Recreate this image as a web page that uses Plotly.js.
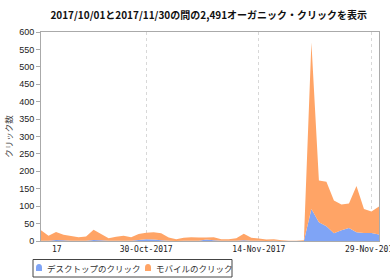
<!DOCTYPE html>
<html>
<head>
<meta charset="utf-8">
<script src="https://cdn.plot.ly/plotly-3.0.1.min.js"></script>
<style>html,body{margin:0;padding:0;background:#fff;}#chart{width:390px;height:279px;}</style>
</head>
<body>
<div id="chart"></div>
<script>
const dates = [
  '2017-10-16','2017-10-17','2017-10-18','2017-10-19','2017-10-20','2017-10-21','2017-10-22','2017-10-23',
  '2017-10-24','2017-10-25','2017-10-26','2017-10-27','2017-10-28','2017-10-29','2017-10-30','2017-10-31',
  '2017-11-01','2017-11-02','2017-11-03','2017-11-04','2017-11-05','2017-11-06','2017-11-07','2017-11-08',
  '2017-11-09','2017-11-10','2017-11-11','2017-11-12','2017-11-13','2017-11-14','2017-11-15','2017-11-16',
  '2017-11-17','2017-11-18','2017-11-19','2017-11-20','2017-11-21','2017-11-22','2017-11-23','2017-11-24',
  '2017-11-25','2017-11-26','2017-11-27','2017-11-28','2017-11-29','2017-11-30'
];
const desktopClicks = [
  1,1,3,2,1,1,1,3,
  2,1,1,1,1,3,5,4,
  2,1,0,1,1,1,4,2,
  1,1,1,2,1,1,0,1,
  0,0,0,0,92,54,42,22,
  31,37,25,23,23,19
];
const mobileClicks = [
  30,14,23,16,13,10,12,29,
  18,7,11,14,10,17,19,21,
  20,9,5,8,10,9,6,9,
  4,4,7,19,8,6,4,4,
  2,1,1,2,478,120,128,94,
  74,71,133,69,62,80
];
const seriesNames = ['デスクトップのクリック', 'モバイルのクリック'];
const tickDates = ['2017-10-30','2017-11-14','2017-11-29'];
const tickLabels = ['30-Oct-2017','14-Nov-2017','29-Nov-2017'];
const clippedFirstTick = '17';
const titleText = '2017/10/01と2017/11/30の間の2,491オーガニック・クリックを表示';
const yTitle = 'クリック数';

const colors = ['#7fa4f6', '#ffa466'];

const traces = [
  {x: dates, y: desktopClicks, name: seriesNames[0], type: 'scatter', mode: 'none',
   stackgroup: 'one', fillcolor: colors[0], line: {width: 0}},
  {x: dates, y: mobileClicks, name: seriesNames[1], type: 'scatter', mode: 'none',
   stackgroup: 'one', fillcolor: colors[1], line: {width: 0}}
];

// plot area in pixels: x 41..379, y 32..241
const PL = 41, PW = 338, PB = 241, PH = 209;
const px = v => (v - PL) / PW;
const py = v => (PB - v) / PH;
function bell(x0, x1, yTop, yBot) {
  const xm = (x0 + x1) / 2, yMid = yTop + (yBot - yTop) * 0.5;
  return `M ${px(x0)},${py(yBot)} L ${px(x0)},${py(yMid)} Q ${px(x0)},${py(yTop)} ${px(xm)},${py(yTop)} ` +
         `Q ${px(x1)},${py(yTop)} ${px(x1)},${py(yMid)} L ${px(x1)},${py(yBot)} Z`;
}
const legendFont = {family: 'Noto Sans CJK JP, sans-serif', size: 8.5, color: '#333'};

const layout = {
  width: 390, height: 279,
  margin: {l: PL, r: 390 - PL - PW, t: 32, b: 279 - PB},
  paper_bgcolor: '#fff', plot_bgcolor: '#fff',
  showlegend: false,
  title: {text: '<b>' + titleText + '</b>', x: 0.535, xanchor: 'center', y: 0.945, yanchor: 'middle',
          font: {family: 'Noto Sans CJK JP, sans-serif', size: 10, color: '#111'}},
  xaxis: {
    type: 'date', range: ['2017-10-16', '2017-11-30'],
    tickmode: 'array', tickvals: tickDates, ticktext: tickLabels,
    ticklabeloverflow: 'allow',
    showgrid: true, gridcolor: '#d8d8d8', griddash: 'dot', gridwidth: 1,
    showline: true, linecolor: '#aaa', linewidth: 1, mirror: true,
    ticks: '', tickfont: {family: 'DejaVu Sans Mono, monospace', size: 8, color: '#222'},
    zeroline: false, fixedrange: true
  },
  yaxis: {
    range: [0, 600], dtick: 50, tick0: 0,
    showgrid: false, zeroline: false,
    showline: true, linecolor: '#aaa', linewidth: 1, mirror: true,
    ticks: 'outside', ticklen: 4, tickcolor: '#aaa',
    tickfont: {family: 'Liberation Sans Narrow, Liberation Sans, sans-serif', size: 9, color: '#222'},
    title: {text: yTitle, standoff: 5, font: {family: 'Noto Sans CJK JP, sans-serif', size: 8.5, color: '#444'}}
  },
  shapes: [
    {type: 'rect', xref: 'paper', yref: 'paper', x0: px(33), x1: px(232), y0: py(259.5), y1: py(277),
     line: {color: '#444', width: 1}, fillcolor: 'rgba(0,0,0,0)'},
    {type: 'path', xref: 'paper', yref: 'paper', path: bell(36, 42, 264, 271), fillcolor: colors[0], line: {width: 0}},
    {type: 'path', xref: 'paper', yref: 'paper', path: bell(145, 151, 264, 271), fillcolor: colors[1], line: {width: 0}}
  ],
  annotations: [
    {text: clippedFirstTick, xref: 'paper', yref: 'paper', x: px(57), y: py(250), xanchor: 'center', yanchor: 'middle',
     showarrow: false, font: {family: 'DejaVu Sans Mono, monospace', size: 8, color: '#222'}},
    {text: seriesNames[0], xref: 'paper', yref: 'paper', x: px(45), y: py(268), xanchor: 'left', yanchor: 'middle',
     showarrow: false, font: legendFont},
    {text: seriesNames[1], xref: 'paper', yref: 'paper', x: px(154), y: py(268), xanchor: 'left', yanchor: 'middle',
     showarrow: false, font: legendFont}
  ]
};

Plotly.newPlot('chart', traces, layout, {displayModeBar: false, staticPlot: true});
</script>
</body>
</html>
